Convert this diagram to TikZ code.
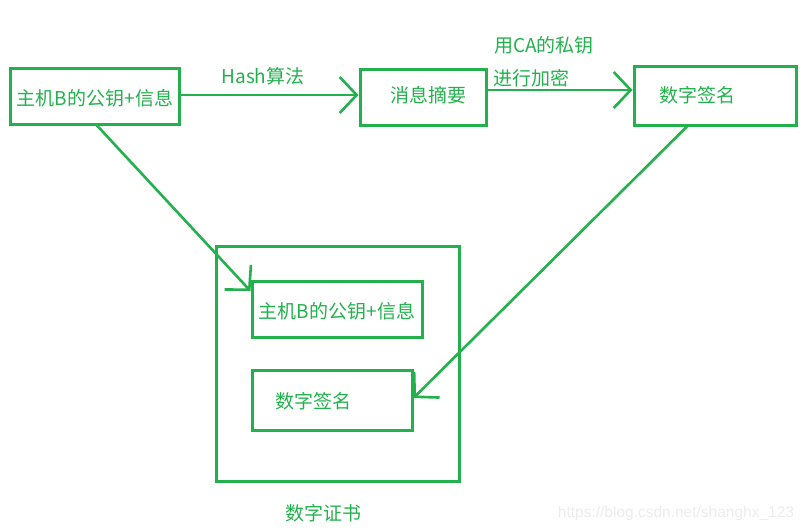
\documentclass[tikz,border=0pt]{standalone}
\usepackage{fontspec}
\setmainfont{Noto Sans CJK SC}
\newfontfamily\wmfont{Liberation Sans}
\usetikzlibrary{arrows.meta}
\definecolor{pgreen}{HTML}{22B14C}
\definecolor{wmgray}{HTML}{ECECEC}
\tikzset{
  box/.style={draw=pgreen, line width=3pt, inner sep=0pt},
  txt/.style={text=pgreen, font=\fontsize{19}{22}\selectfont, inner sep=0pt},
  conn/.style={draw=pgreen, line width=2.6pt, -{Straight Barb[length=17pt,width=36pt,line width=2.6pt]}},
}
\begin{document}
\begin{tikzpicture}[x=1pt,y=-1pt]
\useasboundingbox (0,0) rectangle (806,531);
% top row
\node[box, minimum width=169pt, minimum height=56pt] (b1) at (94.5,96) {};
\node[txt] (t1) at (95,98) {主机B的公钥+信息};
\node[box, minimum width=126pt, minimum height=56pt] (b2) at (423,97) {};
\node[txt] (t2) at (428,95) {消息摘要};
\node[box, minimum width=162pt, minimum height=59pt] (b3) at (715,95.5) {};
\node[txt] (t3) at (697,95) {数字签名};
% certificate
\node[box, minimum width=243pt, minimum height=235pt] (cert) at (337.5,363.5) {};
\node[box, minimum width=170pt, minimum height=56pt] (c1) at (337,309) {};
\node[txt] (ct1) at (337,311) {主机B的公钥+信息};
\node[box, minimum width=160pt, minimum height=60pt] (c2) at (332,400) {};
\node[txt] (ct2) at (313,401) {数字签名};
\node[txt] (certlab) at (323,513) {数字证书};
% labels
\node[txt] (hash) at (263,76) {Hash算法};
\node[txt] (ca1) at (544,45) {用CA的私钥};
\node[txt] (ca2) at (531,78) {进行加密};
% connectors
\coordinate (s3) at ([xshift=2.5pt]b1.south);
\coordinate (e3) at ([yshift=18pt]c1.west);
\coordinate (s4) at ([xshift=-28pt]b3.south);
\coordinate (e4) at ([yshift=2pt]c2.east);
\draw[conn] (b1.east |- 0,95) -- (b2.west |- 0,95);
\draw[conn] (b2.east |- 0,90) -- (b3.west |- 0,90);
\draw[conn] (s3) -- (e3);
\draw[conn] (s4) -- (e4);
% watermark
\node[text=wmgray, font=\wmfont\fontsize{15.5}{18}\selectfont, inner sep=0pt] (wm) at (676,513) {https://blog.csdn.net/shanghx\_123};
\end{tikzpicture}
\end{document}
